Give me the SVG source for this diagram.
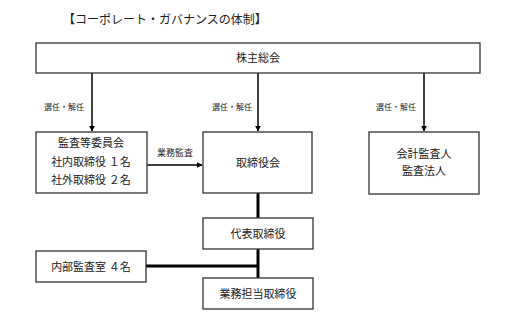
<svg xmlns="http://www.w3.org/2000/svg" width="518" height="321" viewBox="0 0 518 321">
<style>
text{font-family:"Liberation Serif","Noto Sans CJK JP",serif;fill:#222;text-anchor:middle}
.t{font-size:12px}
.n{font-size:11px}
.s{font-size:8px}
.box{fill:#fff;stroke:#333;stroke-width:1.3}
.ln{stroke:#000;stroke-width:1.5;fill:none}
.th{stroke:#000;stroke-width:3;fill:none}
</style>
<defs>
<marker id="ah" viewBox="0 0 10 10" refX="9" refY="5" markerWidth="6" markerHeight="6" markerUnits="userSpaceOnUse" orient="auto"><path d="M0,0 L10,5 L0,10 z" fill="#000"/></marker>
</defs>
<rect width="518" height="321" fill="#fff"/>
<text class="t" x="165" y="24">【コーポレート・ガバナンスの体制】</text>
<g id="connectors">
<line class="ln" x1="92" y1="73" x2="92" y2="131" marker-end="url(#ah)"/>
<line class="ln" x1="258" y1="73" x2="258" y2="131" marker-end="url(#ah)"/>
<line class="ln" x1="424" y1="73" x2="424" y2="131" marker-end="url(#ah)"/>
<line class="ln" x1="147" y1="165" x2="202" y2="165" marker-end="url(#ah)"/>
<line class="th" x1="258" y1="193" x2="258" y2="218"/>
<line class="th" x1="258" y1="249" x2="258" y2="278"/>
<line class="th" x1="146" y1="266" x2="258" y2="266"/>
<text class="s" x="64" y="110">選任・解任</text>
<text class="s" x="232" y="110">選任・解任</text>
<text class="s" x="396" y="110">選任・解任</text>
<text class="s" x="175" y="156" style="font-size:9px">業務監査</text>
</g>
<g id="shareholders">
<rect class="box" x="36" y="43" width="444" height="30"/>
<text class="n" x="258" y="62">株主総会</text>
</g>
<g id="audit-committee">
<rect class="box" x="36" y="132" width="111" height="61"/>
<text class="n" x="91" y="147">監査等委員会</text>
<text class="n" x="91" y="166">社内取締役 １名</text>
<text class="n" x="91" y="184">社外取締役 ２名</text>
</g>
<g id="board">
<rect class="box" x="203" y="132" width="109" height="61"/>
<text class="n" x="258" y="167">取締役会</text>
</g>
<g id="accounting-auditor">
<rect class="box" x="369" y="132" width="110" height="62"/>
<text class="n" x="424" y="158">会計監査人</text>
<text class="n" x="424" y="175">監査法人</text>
</g>
<g id="representative">
<rect class="box" x="203" y="218" width="110" height="31"/>
<text class="n" x="258" y="238">代表取締役</text>
</g>
<g id="internal-audit">
<rect class="box" x="36" y="251" width="110" height="31"/>
<text class="n" x="91" y="271">内部監査室 ４名</text>
</g>
<g id="executive">
<rect class="box" x="203" y="278" width="110" height="31"/>
<text class="n" x="258" y="298">業務担当取締役</text>
</g>
</svg>
